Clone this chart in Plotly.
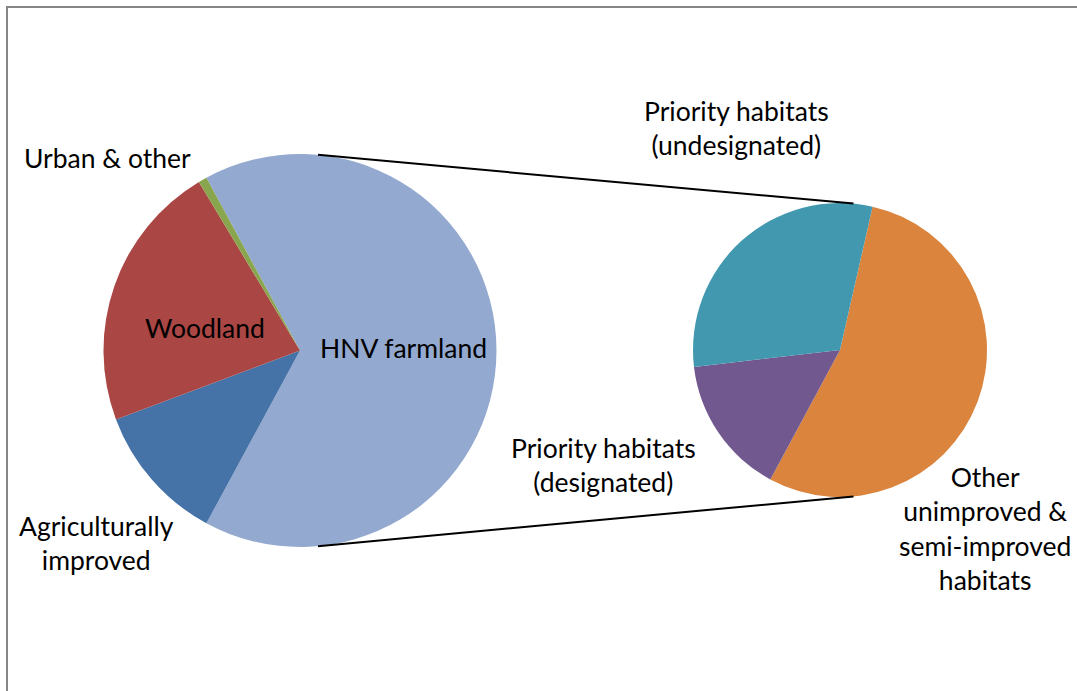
import math
import plotly.graph_objects as go

# ---------------- data ----------------
main_labels = ["HNV farmland", "Agriculturally improved", "Woodland", "Urban & other"]
main_values = [65.8, 11.4, 22.1, 0.7]
main_colors = ["#93A9CF", "#4572A7", "#AA4643", "#89A54E"]

sub_labels = ["Other unimproved & semi-improved habitats",
              "Priority habitats (designated)",
              "Priority habitats (undesignated)"]
sub_values = [54.3, 15.3, 30.4]
sub_colors = ["#DB843D", "#71588F", "#4198AF"]

# ---------------- geometry (pixels) ----------------
W, H = 1077, 691
LC, LR = (300.0, 350.5), 196.5   # main pie centre / radius
RC, RR = (840.0, 350.0), 147.0   # secondary pie centre / radius


def px_x(x):
    return x / W


def px_y(y):
    return 1 - y / H


def domain(c, r):
    return dict(x=[px_x(c[0] - r), px_x(c[0] + r)],
                y=[px_y(c[1] + r), px_y(c[1] - r)])


# split slice (HNV) centred at 3 o'clock
main_rot = 90 - 180 * main_values[0] / sum(main_values)

fig = go.Figure()
fig.add_trace(go.Pie(
    labels=main_labels, values=main_values, sort=False, direction="clockwise",
    rotation=main_rot, marker=dict(colors=main_colors, line=dict(width=0)),
    textinfo="none", hoverinfo="label+value", domain=domain(LC, LR),
    showlegend=False))
fig.add_trace(go.Pie(
    labels=sub_labels, values=sub_values, sort=False, direction="clockwise",
    rotation=12.8, marker=dict(colors=sub_colors, line=dict(width=0)),
    textinfo="none", hoverinfo="label+value", domain=domain(RC, RR),
    showlegend=False))

# connector lines: external tangents between the two circles
d = RC[0] - LC[0]
phi = math.acos((LR - RR) / d)
shapes = []
for s in (1, -1):
    x0 = LC[0] + LR * math.cos(phi)
    y0 = LC[1] - s * LR * math.sin(phi)
    x1 = RC[0] + RR * math.cos(phi)
    y1 = RC[1] - s * RR * math.sin(phi)
    shapes.append(dict(type="line", xref="paper", yref="paper",
                       x0=px_x(x0), y0=px_y(y0), x1=px_x(x1), y1=px_y(y1),
                       line=dict(color="black", width=2)))

# chart-area border (only top & left visible)
shapes.append(dict(type="rect", xref="paper", yref="paper",
                   x0=px_x(7), y0=px_y(700), x1=px_x(1090), y1=px_y(7),
                   line=dict(color="#868686", width=2), fillcolor="rgba(0,0,0,0)",
                   layer="above"))

FONT = dict(family="Lato, 'Open Sans', sans-serif", size=26.5, color="black")
labels = [
    ("Urban &amp; other", 107, 158),
    ("Woodland", 205, 328),
    ("HNV farmland", 403, 348),
    ("Agriculturally<br>improved", 96, 543),
    ("Priority habitats<br>(undesignated)", 736, 128),
    ("Priority habitats<br>(designated)", 603, 465),
    ("Other<br>unimproved &amp;<br>semi-improved<br>habitats", 985, 528),
]
annotations = [dict(text=t, x=px_x(x), y=px_y(y), xref="paper", yref="paper",
                    xanchor="center", yanchor="middle", showarrow=False,
                    font=FONT, align="center")
               for t, x, y in labels]

fig.update_layout(width=W, height=H, margin=dict(l=0, r=0, t=0, b=0),
                  paper_bgcolor="white", plot_bgcolor="white",
                  shapes=shapes, annotations=annotations, showlegend=False)

fig.write_html("out.html")
